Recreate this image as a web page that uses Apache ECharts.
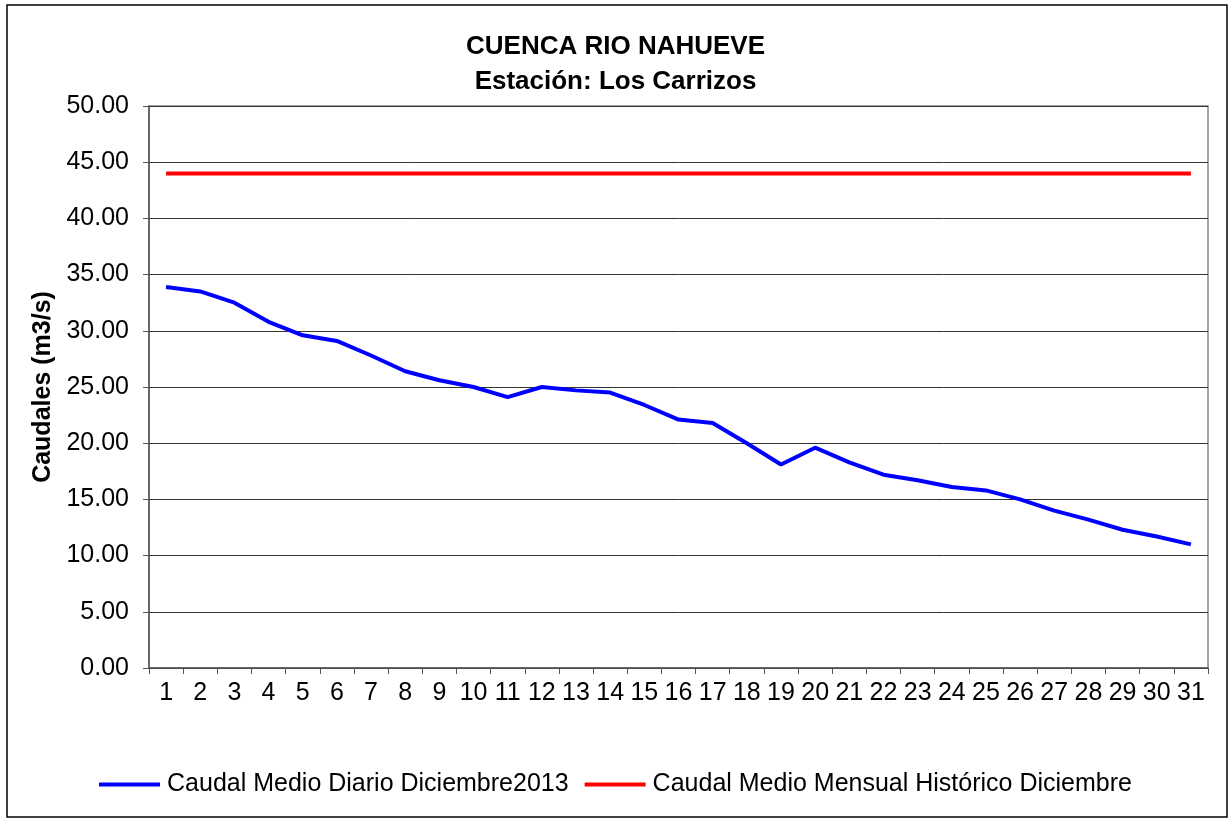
<!DOCTYPE html>
<html>
<head>
<meta charset="utf-8">
<script src="https://cdn.jsdelivr.net/npm/echarts@6/dist/echarts.min.js"></script>
<style>
  html, body { margin: 0; padding: 0; background: #fff; }
  #chart { width: 1231px; height: 819px; }
</style>
</head>
<body>
<div id="chart"></div>
<script>
const dias = ['1','2','3','4','5','6','7','8','9','10','11','12','13','14','15','16','17','18','19','20','21','22','23','24','25','26','27','28','29','30','31']
const caudalDiario = [33.9, 33.5, 32.5, 30.8, 29.6, 29.1, 27.8, 26.4, 25.6, 25.0, 24.1, 25.0, 24.7, 24.5, 23.4, 22.1, 21.8, 20.0, 18.1, 19.6, 18.3, 17.2, 16.7, 16.1, 15.8, 15.0, 14.0, 13.2, 12.3, 11.7, 11.0]
const caudalHistorico = [44.0, 44.0, 44.0, 44.0, 44.0, 44.0, 44.0, 44.0, 44.0, 44.0, 44.0, 44.0, 44.0, 44.0, 44.0, 44.0, 44.0, 44.0, 44.0, 44.0, 44.0, 44.0, 44.0, 44.0, 44.0, 44.0, 44.0, 44.0, 44.0, 44.0, 44.0]
const nombreDiario = 'Caudal Medio Diario Diciembre2013'
const nombreHistorico = 'Caudal Medio Mensual Histórico Diciembre'

const font = 'Liberation Sans, Arial, sans-serif'
const chart = echarts.init(document.getElementById('chart'))

chart.setOption({
  backgroundColor: '#fff',
  animation: false,
  textStyle: { fontFamily: font },
  graphic: [{
    type: 'rect',
    shape: { x: 7, y: 5, width: 1220, height: 812 },
    style: { fill: 'none', stroke: '#000', lineWidth: 1.5 },
    silent: true
  }],
  title: {
    text: 'CUENCA RIO NAHUEVE\nEstación: Los Carrizos',
    left: 'center',
    top: 24,
    textStyle: { fontFamily: font, fontSize: 26, fontWeight: 'bold', color: '#000', lineHeight: 35 }
  },
  grid: {
    left: 149,
    right: 23,
    top: 106,
    bottom: 151,
    show: true,
    borderColor: '#888',
    borderWidth: 1.5
  },
  legend: {
    data: [nombreDiario, nombreHistorico],
    left: 'center',
    top: 767,
    icon: 'rect',
    itemWidth: 61,
    itemHeight: 4,
    itemGap: 16,
    textStyle: { fontFamily: font, fontSize: 25, color: '#000', padding: [0, 0, 0, 2] }
  },
  xAxis: {
    type: 'category',
    data: dias,
    boundaryGap: true,
    axisLine: { lineStyle: { color: '#555', width: 1.5 } },
    axisTick: { show: true, length: 6, interval: 0, lineStyle: { color: '#555' } },
    axisLabel: { interval: 0, fontSize: 25, color: '#000', margin: 13, fontFamily: font },
    splitLine: { show: false }
  },
  yAxis: {
    type: 'value',
    min: 0,
    max: 50,
    interval: 5,
    name: 'Caudales (m3/s)',
    nameLocation: 'middle',
    nameGap: 92,
    nameTextStyle: { fontFamily: font, fontSize: 25, fontWeight: 'bold', color: '#000' },
    axisLine: { show: true, lineStyle: { color: '#555', width: 1.5 } },
    axisTick: { show: true, length: 6, lineStyle: { color: '#555' } },
    axisLabel: {
      fontSize: 25, color: '#000', margin: 20, fontFamily: font,
      formatter: v => v.toFixed(2)
    },
    splitLine: { show: true, lineStyle: { color: '#333', width: 1 } }
  },
  series: [
    {
      name: nombreDiario,
      type: 'line',
      data: caudalDiario,
      showSymbol: false,
      itemStyle: { color: '#0000ff' },
      lineStyle: { color: '#0000ff', width: 4 }
    },
    {
      name: nombreHistorico,
      type: 'line',
      data: caudalHistorico,
      showSymbol: false,
      itemStyle: { color: '#ff0000' },
      lineStyle: { color: '#ff0000', width: 4 }
    }
  ]
})
</script>
</body>
</html>
